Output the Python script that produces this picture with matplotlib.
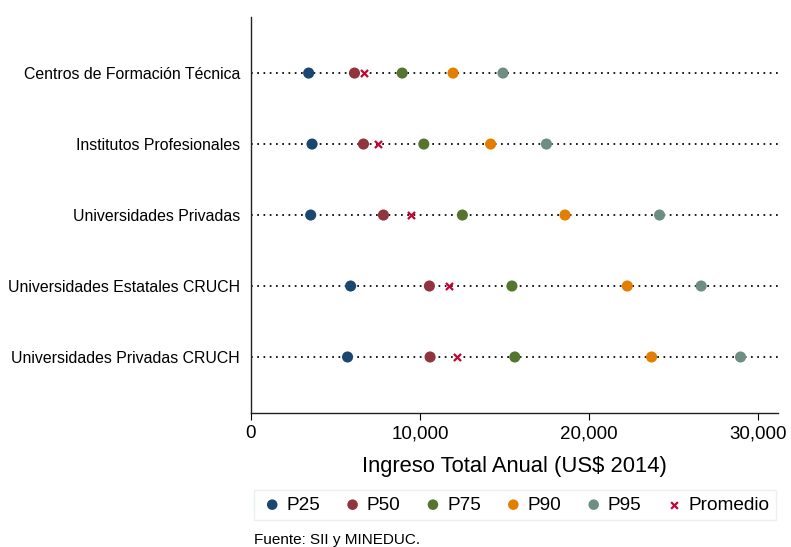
import matplotlib
matplotlib.use("Agg")
import matplotlib.pyplot as plt
from matplotlib.ticker import FuncFormatter

plt.rcParams['font.family'] = ['Liberation Sans', 'DejaVu Sans']

categories = ["Centros de Formación Técnica", "Institutos Profesionales",
              "Universidades Privadas", "Universidades Estatales CRUCH",
              "Universidades Privadas CRUCH"]
p25 = [3410, 3610, 3530, 5890, 5710]
p50 = [6120, 6650, 7830, 10550, 10590]
p75 = [8940, 10220, 12500, 15430, 15600]
p90 = [11950, 14170, 18570, 22250, 23690]
p95 = [14900, 17470, 24160, 26620, 28950]
promedio = [6700, 7520, 9490, 11730, 12170]

series = [("P25", p25, "#1a476f"), ("P50", p50, "#90353b"),
          ("P75", p75, "#55752f"), ("P90", p90, "#e37e00"),
          ("P95", p95, "#6e8e84")]

fig = plt.figure(figsize=(7.91, 5.47), dpi=100)
ax = fig.add_axes([251/791, 1-412.7/547, (778-251)/791, (412.7-17)/547])

n = len(categories)
ypos = [n - 1 - i for i in range(n)]

for y in ypos:
    ax.axhline(y, color="black", linestyle=(0, (1, 2.6)), linewidth=1.25, zorder=1)

handles = []
for name, vals, col in series:
    h = ax.scatter(vals, ypos, s=64, color=col, edgecolors="none", zorder=3, label=name)
    handles.append(h)
h = ax.scatter(promedio, ypos, marker="x", s=26, color="#c10534", linewidths=1.6,
               zorder=4, label="Promedio")
handles.append(h)

ax.set_xlim(0, 31165)
ax.set_ylim(-0.785, n - 1 + 0.79)
ax.set_yticks(ypos)
ax.set_yticklabels(categories, fontsize=11.4)
ax.tick_params(axis="y", length=0, pad=8)
ax.set_xticks([0, 10000, 20000, 30000])
ax.xaxis.set_major_formatter(FuncFormatter(lambda v, p: f"{int(v):,}"))
ax.tick_params(axis="x", labelsize=13.5, length=5, width=0.8, pad=4)
ax.spines["top"].set_visible(False)
ax.spines["right"].set_visible(False)
for s in ("left", "bottom"):
    ax.spines[s].set_linewidth(1.0)
    ax.spines[s].set_color("#222222")

ax.set_xlabel("Ingreso Total Anual (US$ 2014)", fontsize=15.8, labelpad=10)

leg = fig.legend(handles=handles, loc="center", bbox_to_anchor=(515/791, 1-505/547),
                 ncol=6, fontsize=13.7, frameon=True, fancybox=False,
                 handletextpad=0.15, columnspacing=1.1, borderpad=0.35,
                 markerscale=0.95, scatterpoints=1, handlelength=1.2)
leg.get_frame().set_edgecolor("#e4ecef")
leg.get_frame().set_linewidth(1.0)

fig.text(254/791, 1-540/547, "Fuente: SII y MINEDUC.", fontsize=11, va="center", ha="left")

fig.savefig("out.png", dpi=100)
